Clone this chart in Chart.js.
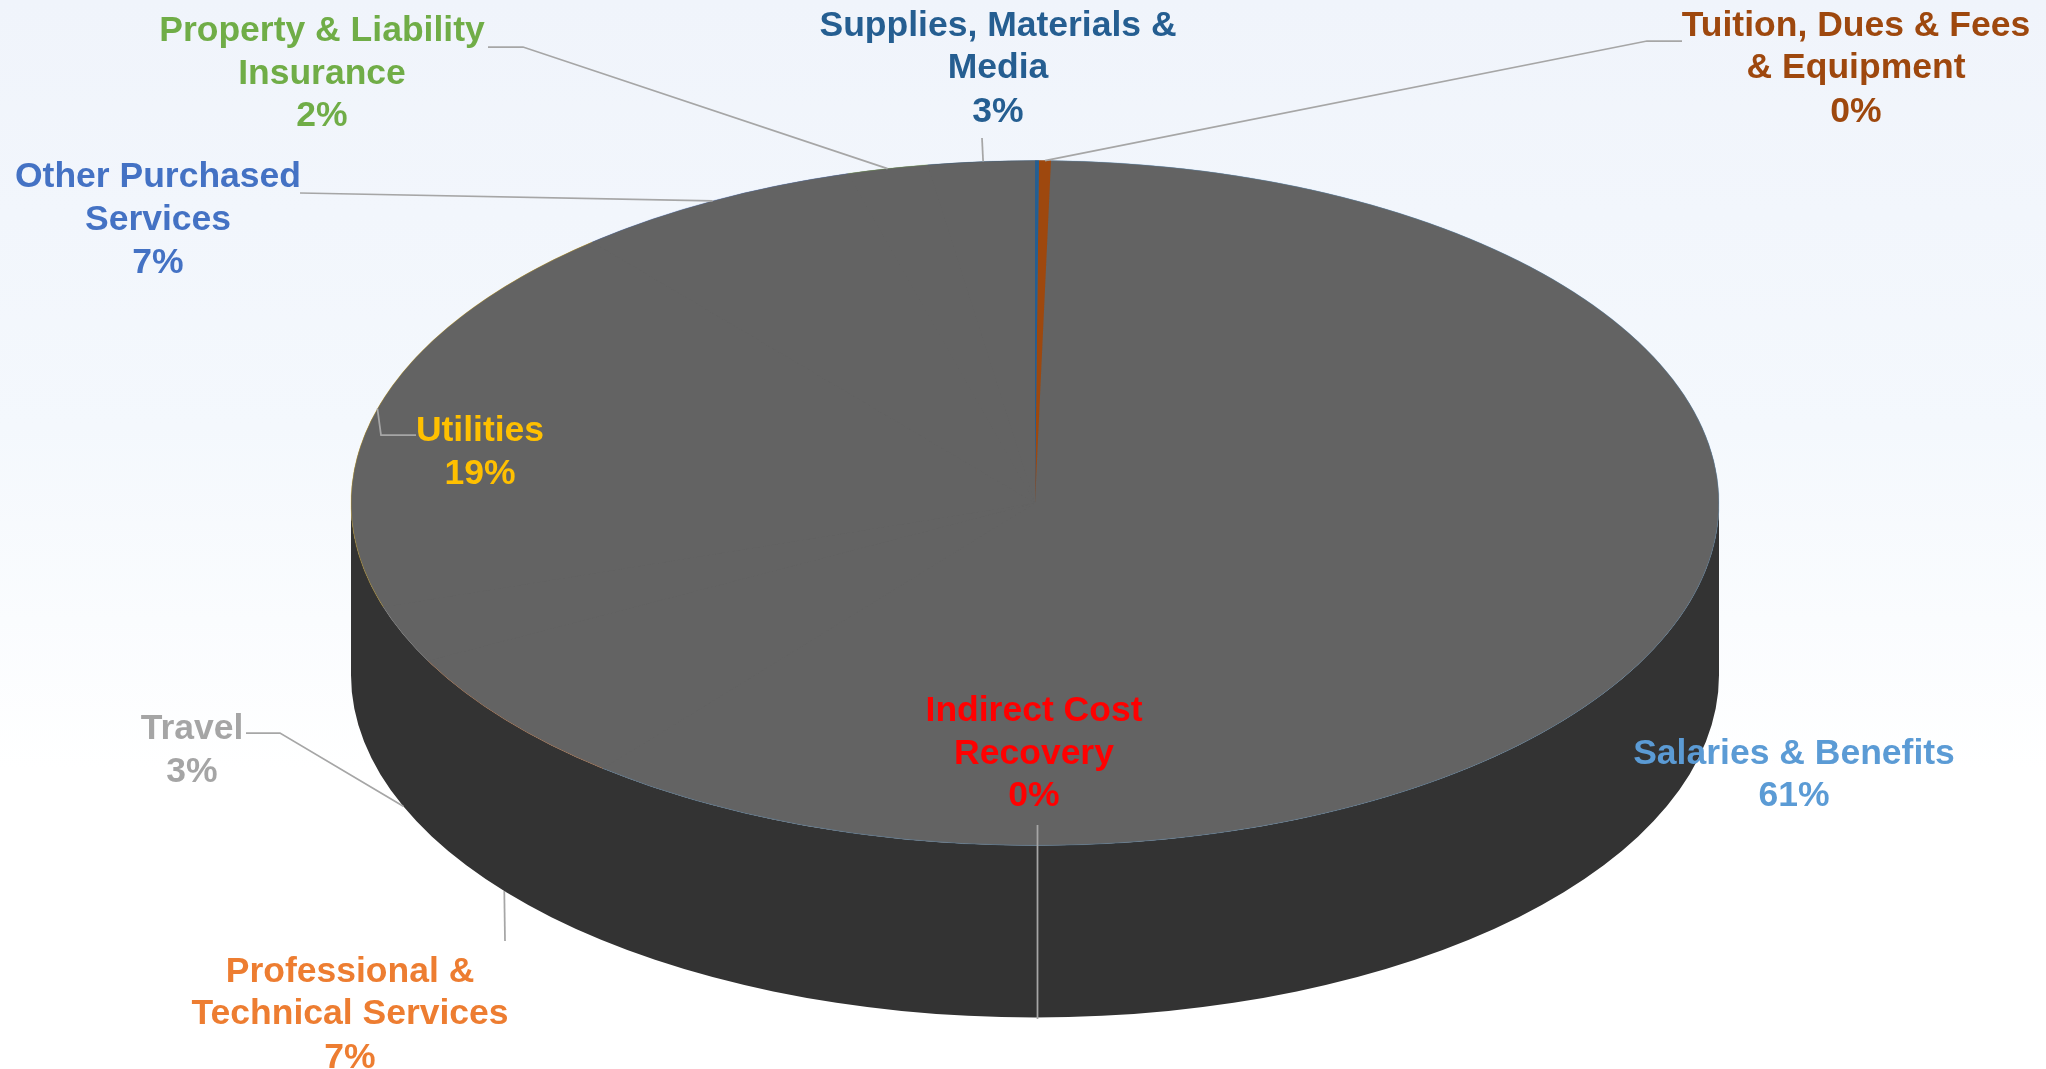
<!DOCTYPE html>
<html>
<head>
<meta charset="utf-8">
<title>Budget by category</title>
<style>
  html, body { margin: 0; padding: 0; width: 2046px; height: 1069px; overflow: hidden; background: #fff; }
  body { background: linear-gradient(180deg, #f0f4fb 0%, #f4f8fd 40%, #fafcfe 58%, #ffffff 72%); }
  canvas { display: block; }
</style>
<script src="https://cdn.jsdelivr.net/npm/chart.js@4/dist/chart.umd.min.js"></script>
</head>
<body>
<canvas id="budget" width="2046" height="1069"></canvas>
<script>
// Budget shares, clockwise from the top of the pie
const categories = [
  ["Salaries & Benefits"],
  ["Professional &", "Technical Services"],
  ["Travel"],
  ["Utilities"],
  ["Other Purchased", "Services"],
  ["Property & Liability", "Insurance"],
  ["Supplies, Materials &", "Media"],
  ["Tuition, Dues & Fees", "& Equipment"],
  ["Indirect Cost", "Recovery"]
];
const shares = [60.5, 6.5, 2.7, 18.7, 6.8, 1.9, 2.6, 0.28, 0];
const seriesColors = ["#5b9bd5", "#ed7d31", "#a5a5a5", "#ffc000", "#4472c4", "#70ad47", "#255e91", "#9e480e", "#ff0000"];
const faceColors = ["#636363", "#636363", "#636363", "#636363", "#636363", "#636363", "#636363", "#9e480e", "#636363"];

// Label anchors: centre x, y of each text line, then the leader polyline from the label
const labelX = [1794, 350, 192, 480, 158, 322, 998, 1856, 1034];
const labelY = [
  [754, 796],
  [972, 1014, 1058],
  [729, 772],
  [431, 474],
  [177, 220, 263],
  [31, 74, 116],
  [26, 68, 112],
  [26, 68, 112],
  [711, 754, 796]
];
const leaders = [
  null,
  [[505, 941]],
  [[246, 733], [280, 733]],
  [[416, 435], [381, 435]],
  [[300, 193]],
  [[488, 47], [523, 47]],
  [[982, 138]],
  [[1682, 41], [1647, 41]],
  [[1037.5, 825], [1037.5, 1019]]
];

// Projection of the flat pie onto the tilted disc
const disc = { cx: 1035, cy: 503, rx: 684, ry: 342.5, depth: 172 };
const topFace = "#636363";
const sideFace = "#333333";
const leaderColor = "#a6a6a6";
const suppliesVisibleDegrees = 0.33;

function project(ctx, arc) {
  ctx.translate(disc.cx, disc.cy);
  ctx.scale(disc.rx / arc.outerRadius, disc.ry / arc.outerRadius);
  ctx.translate(-arc.x, -arc.y);
}

const tiltedPie = {
  id: "tiltedPie",
  beforeDatasetsDraw(chart) {
    const ctx = chart.ctx;
    const arc = chart.getDatasetMeta(0).data[0];
    ctx.save();
    // Side wall
    ctx.fillStyle = sideFace;
    ctx.beginPath();
    ctx.ellipse(disc.cx, disc.cy + disc.depth, disc.rx, disc.ry, 0, 0, Math.PI);
    ctx.lineTo(disc.cx - disc.rx, disc.cy);
    ctx.ellipse(disc.cx, disc.cy, disc.rx, disc.ry, 0, Math.PI, 0, true);
    ctx.closePath();
    ctx.fill();
    // Solid top face so that slice seams do not show
    ctx.fillStyle = topFace;
    ctx.beginPath();
    ctx.ellipse(disc.cx, disc.cy, disc.rx, disc.ry, 0, 0, Math.PI * 2);
    ctx.fill();
    project(ctx, arc);
  },
  afterDatasetsDraw(chart) {
    const ctx = chart.ctx;
    const arcs = chart.getDatasetMeta(0).data;
    // Thin slice of Supplies colour next to Tuition
    const supplies = arcs[6];
    ctx.fillStyle = seriesColors[6];
    ctx.beginPath();
    ctx.moveTo(supplies.x, supplies.y);
    ctx.arc(supplies.x, supplies.y, supplies.outerRadius,
      supplies.endAngle - suppliesVisibleDegrees * Math.PI / 180, supplies.endAngle);
    ctx.closePath();
    ctx.fill();
    ctx.restore();

    // Coloured rim along the outer edge of each slice
    ctx.save();
    ctx.lineWidth = 1;
    ctx.globalAlpha = 0.3;
    arcs.forEach((a, i) => {
      if (shares[i] <= 0) return;
      ctx.strokeStyle = seriesColors[i];
      ctx.beginPath();
      ctx.ellipse(disc.cx, disc.cy, disc.rx, disc.ry, 0, a.startAngle, a.endAngle);
      ctx.stroke();
    });
    ctx.restore();
  },
  afterDraw(chart) {
    const ctx = chart.ctx;
    const arcs = chart.getDatasetMeta(0).data;
    const total = shares.reduce((s, v) => s + v, 0);
    ctx.save();
    // Leader lines
    ctx.strokeStyle = leaderColor;
    ctx.lineWidth = 1.75;
    leaders.forEach((points, i) => {
      if (!points) return;
      ctx.beginPath();
      points.forEach((p, k) => (k ? ctx.lineTo(p[0], p[1]) : ctx.moveTo(p[0], p[1])));
      if (shares[i] > 0) {
        const mid = (arcs[i].startAngle + arcs[i].endAngle) / 2;
        const sin = Math.sin(mid);
        ctx.lineTo(disc.cx + disc.rx * Math.cos(mid),
          disc.cy + disc.ry * sin + (sin > 0 ? disc.depth : 0));
      }
      ctx.stroke();
    });
    // Category and percentage labels
    ctx.font = "bold 35.5px 'Liberation Sans', Arial, sans-serif";
    ctx.textAlign = "center";
    ctx.textBaseline = "middle";
    categories.forEach((lines, i) => {
      ctx.fillStyle = seriesColors[i];
      const text = lines.concat(Math.round(shares[i] / total * 100) + "%");
      text.forEach((t, k) => ctx.fillText(t, labelX[i], labelY[i][k]));
    });
    ctx.restore();
  }
};

new Chart(document.getElementById("budget"), {
  type: "pie",
  plugins: [tiltedPie],
  data: {
    labels: categories.map(c => c.join(" ")),
    datasets: [{
      data: shares,
      backgroundColor: faceColors,
      borderWidth: 0,
      clip: false
    }]
  },
  options: {
    responsive: false,
    animation: false,
    rotation: 1.34,
    layout: { padding: { left: 24, bottom: 63 } },
    plugins: { legend: { display: false }, tooltip: { enabled: false } }
  }
});
</script>
</body>
</html>
